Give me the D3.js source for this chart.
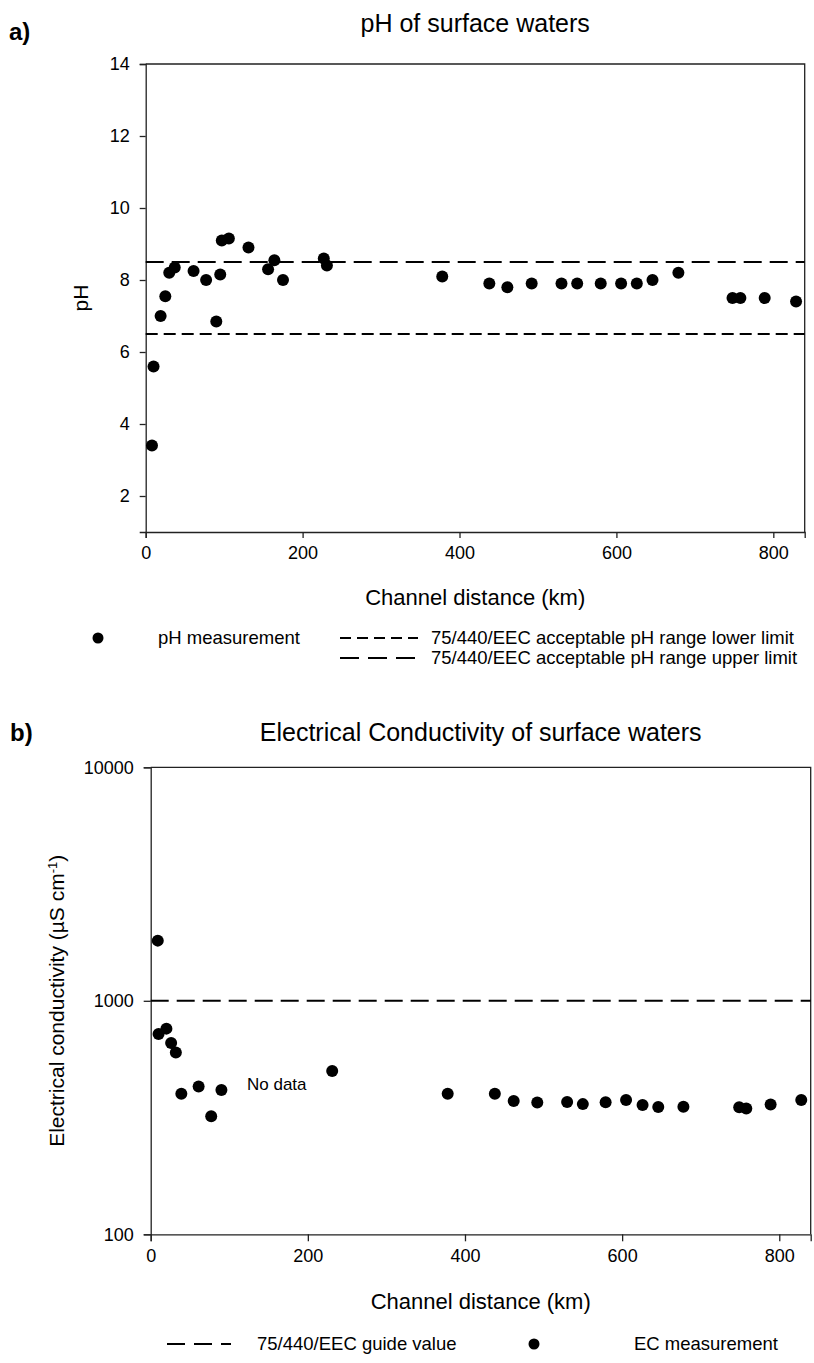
<!DOCTYPE html>
<html>
<head>
<meta charset="utf-8">
<script src="https://cdn.jsdelivr.net/npm/d3@7"></script>
<style>
  body { margin: 0; background: #fff; }
  svg { font-family: "Liberation Sans", Arial, sans-serif; }
  .axis path, .axis line { stroke: #222; stroke-width: 1.3; }
  .axis text { font-size: 18px; fill: #000; }
</style>
</head>
<body>
<div class="chart"></div>
<script>
// pH panel data (channel distance in km)
const phDistance = [8, 10, 19, 25, 30, 37, 61, 77, 90, 95, 97, 106, 131, 156, 164, 175, 227, 231,
  378, 438, 461, 492, 530, 550, 580, 606, 626, 646, 679, 748, 758, 789, 829]
const phValue = [3.4, 5.6, 7.0, 7.55, 8.2, 8.35, 8.25, 8.0, 6.85, 8.15, 9.1, 9.15, 8.9, 8.3, 8.55, 8.0, 8.6, 8.4,
  8.1, 7.9, 7.8, 7.9, 7.9, 7.9, 7.9, 7.9, 7.9, 8.0, 8.2, 7.5, 7.5, 7.5, 7.4]
const phLower = 6.5
const phUpper = 8.5

// EC panel data
const ecDistance = [9, 10, 20, 26, 32, 39, 61, 77, 90, 231, 378, 438, 462, 492, 530, 550, 579, 605,
  626, 646, 678, 749, 758, 789, 828]
const ecValue = [1810, 720, 760, 660, 600, 400, 430, 320, 415, 500, 400, 400, 372, 367, 369, 361, 368, 376,
  358, 351, 352, 350, 346, 360, 376]
const ecGuide = 1000

const distanceTicks = [0, 200, 400, 600, 800]
const phTicks = [2, 4, 6, 8, 10, 12, 14]
const ecTicks = [100, 1000, 10000]

const W = 814, H = 1363

const svg = d3.select(".chart").append("svg")
    .attr("width", W)
    .attr("height", H)

// ---------- panel a) pH ----------
const pa = {left: 145.7, right: 804.7, top: 64, bottom: 532}

const xA = d3.scaleLinear().domain([0, 840]).range([pa.left, pa.right])
const yA = d3.scaleLinear().domain([1, 14]).range([pa.bottom, pa.top])

svg.append("text")
    .attr("x", 9).attr("y", 40)
    .style("font-size", "24px").style("font-weight", "bold")
    .text("a)")

svg.append("text")
    .attr("x", (pa.left + pa.right) / 2).attr("y", 32)
    .attr("text-anchor", "middle")
    .style("font-size", "25px")
    .text("pH of surface waters")

// frame top / right
svg.append("path")
    .attr("d", `M${pa.left},${pa.top}H${pa.right}V${pa.bottom}`)
    .attr("fill", "none").attr("stroke", "#222").attr("stroke-width", 1.3)

svg.append("g")
    .attr("class", "axis")
    .attr("transform", `translate(0,${pa.bottom})`)
    .call(d3.axisBottom(xA).tickValues(distanceTicks).tickSizeOuter(0).tickSize(6).tickPadding(8))

svg.append("g")
    .attr("class", "axis")
    .attr("transform", `translate(${pa.left},0)`)
    .call(d3.axisLeft(yA).tickValues(phTicks).tickSizeOuter(0).tickSize(6).tickPadding(10))

// limit lines
svg.append("line")
    .attr("x1", pa.left).attr("x2", pa.right)
    .attr("y1", yA(phLower)).attr("y2", yA(phLower))
    .attr("stroke", "#000").attr("stroke-width", 2)
    .attr("stroke-dasharray", "12,6")

svg.append("line")
    .attr("x1", pa.left).attr("x2", pa.right)
    .attr("y1", yA(phUpper)).attr("y2", yA(phUpper))
    .attr("stroke", "#000").attr("stroke-width", 2)
    .attr("stroke-dasharray", "18,8")

svg.append("g").selectAll("circle")
    .data(phDistance)
    .enter().append("circle")
        .attr("cx", d => xA(d))
        .attr("cy", (d, i) => yA(phValue[i]))
        .attr("r", 6)
        .attr("fill", "#000")

svg.append("text")
    .attr("x", (pa.left + pa.right) / 2).attr("y", 605)
    .attr("text-anchor", "middle")
    .style("font-size", "22px")
    .text("Channel distance (km)")

svg.append("text")
    .attr("transform", `translate(88,${(pa.top + pa.bottom) / 2}) rotate(-90)`)
    .attr("text-anchor", "middle")
    .style("font-size", "21px")
    .text("pH")

// legend a)
const legA = svg.append("g").style("font-size", "18.5px")
legA.append("circle").attr("cx", 98).attr("cy", 638).attr("r", 5.5)
legA.append("text").attr("x", 158).attr("y", 644).text("pH measurement")
legA.append("line").attr("x1", 340).attr("x2", 418).attr("y1", 638).attr("y2", 638)
    .attr("stroke", "#000").attr("stroke-width", 2).attr("stroke-dasharray", "11,6")
legA.append("text").attr("x", 431).attr("y", 644).text("75/440/EEC acceptable pH range lower limit")
legA.append("line").attr("x1", 340).attr("x2", 416).attr("y1", 658).attr("y2", 658)
    .attr("stroke", "#000").attr("stroke-width", 2).attr("stroke-dasharray", "19,9")
legA.append("text").attr("x", 431).attr("y", 664).text("75/440/EEC acceptable pH range upper limit")

// ---------- panel b) EC ----------
const pb = {left: 150.7, right: 810.7, top: 767.3, bottom: 1234.3}

const xB = d3.scaleLinear().domain([0, 840]).range([pb.left, pb.right])
const yB = d3.scaleLog().domain([100, 10000]).range([pb.bottom, pb.top])

svg.append("text")
    .attr("x", 10).attr("y", 741)
    .style("font-size", "24px").style("font-weight", "bold")
    .text("b)")

svg.append("text")
    .attr("x", (pb.left + pb.right) / 2).attr("y", 741)
    .attr("text-anchor", "middle")
    .style("font-size", "25px")
    .text("Electrical Conductivity of surface waters")

svg.append("path")
    .attr("d", `M${pb.left},${pb.top}H${pb.right}V${pb.bottom}`)
    .attr("fill", "none").attr("stroke", "#222").attr("stroke-width", 1.3)

svg.append("g")
    .attr("class", "axis")
    .attr("transform", `translate(0,${pb.bottom})`)
    .call(d3.axisBottom(xB).tickValues(distanceTicks).tickSizeOuter(0).tickSize(7).tickPadding(8))

svg.append("g")
    .attr("class", "axis")
    .attr("transform", `translate(${pb.left},0)`)
    .call(d3.axisLeft(yB).tickValues(ecTicks).tickFormat(d3.format("d")).tickSizeOuter(0).tickSize(7).tickPadding(10))

svg.append("line")
    .attr("x1", pb.left).attr("x2", pb.right)
    .attr("y1", yB(ecGuide)).attr("y2", yB(ecGuide))
    .attr("stroke", "#000").attr("stroke-width", 2)
    .attr("stroke-dasharray", "18,8")

svg.append("g").selectAll("circle")
    .data(ecDistance)
    .enter().append("circle")
        .attr("cx", d => xB(d))
        .attr("cy", (d, i) => yB(ecValue[i]))
        .attr("r", 6)
        .attr("fill", "#000")

svg.append("text")
    .attr("x", 247).attr("y", 1090)
    .style("font-size", "17px")
    .text("No data")

svg.append("text")
    .attr("x", (pb.left + pb.right) / 2).attr("y", 1309)
    .attr("text-anchor", "middle")
    .style("font-size", "22px")
    .text("Channel distance (km)")

const yLab = svg.append("text")
    .attr("transform", `translate(64,${(pb.top + pb.bottom) / 2}) rotate(-90)`)
    .attr("text-anchor", "middle")
    .style("font-size", "21px")
yLab.append("tspan").text("Electrical conductivity (\u00B5S cm")
yLab.append("tspan").attr("baseline-shift", "super").style("font-size", "13px").text("-1")
yLab.append("tspan").text(")")

// legend b)
const legB = svg.append("g").style("font-size", "18.5px")
legB.append("line").attr("x1", 167).attr("x2", 231).attr("y1", 1344).attr("y2", 1344)
    .attr("stroke", "#000").attr("stroke-width", 2).attr("stroke-dasharray", "18,9")
legB.append("text").attr("x", 257).attr("y", 1350).text("75/440/EEC guide value")
legB.append("circle").attr("cx", 534).attr("cy", 1344).attr("r", 5.5)
legB.append("text").attr("x", 634).attr("y", 1350).text("EC measurement")
</script>
</body>
</html>
